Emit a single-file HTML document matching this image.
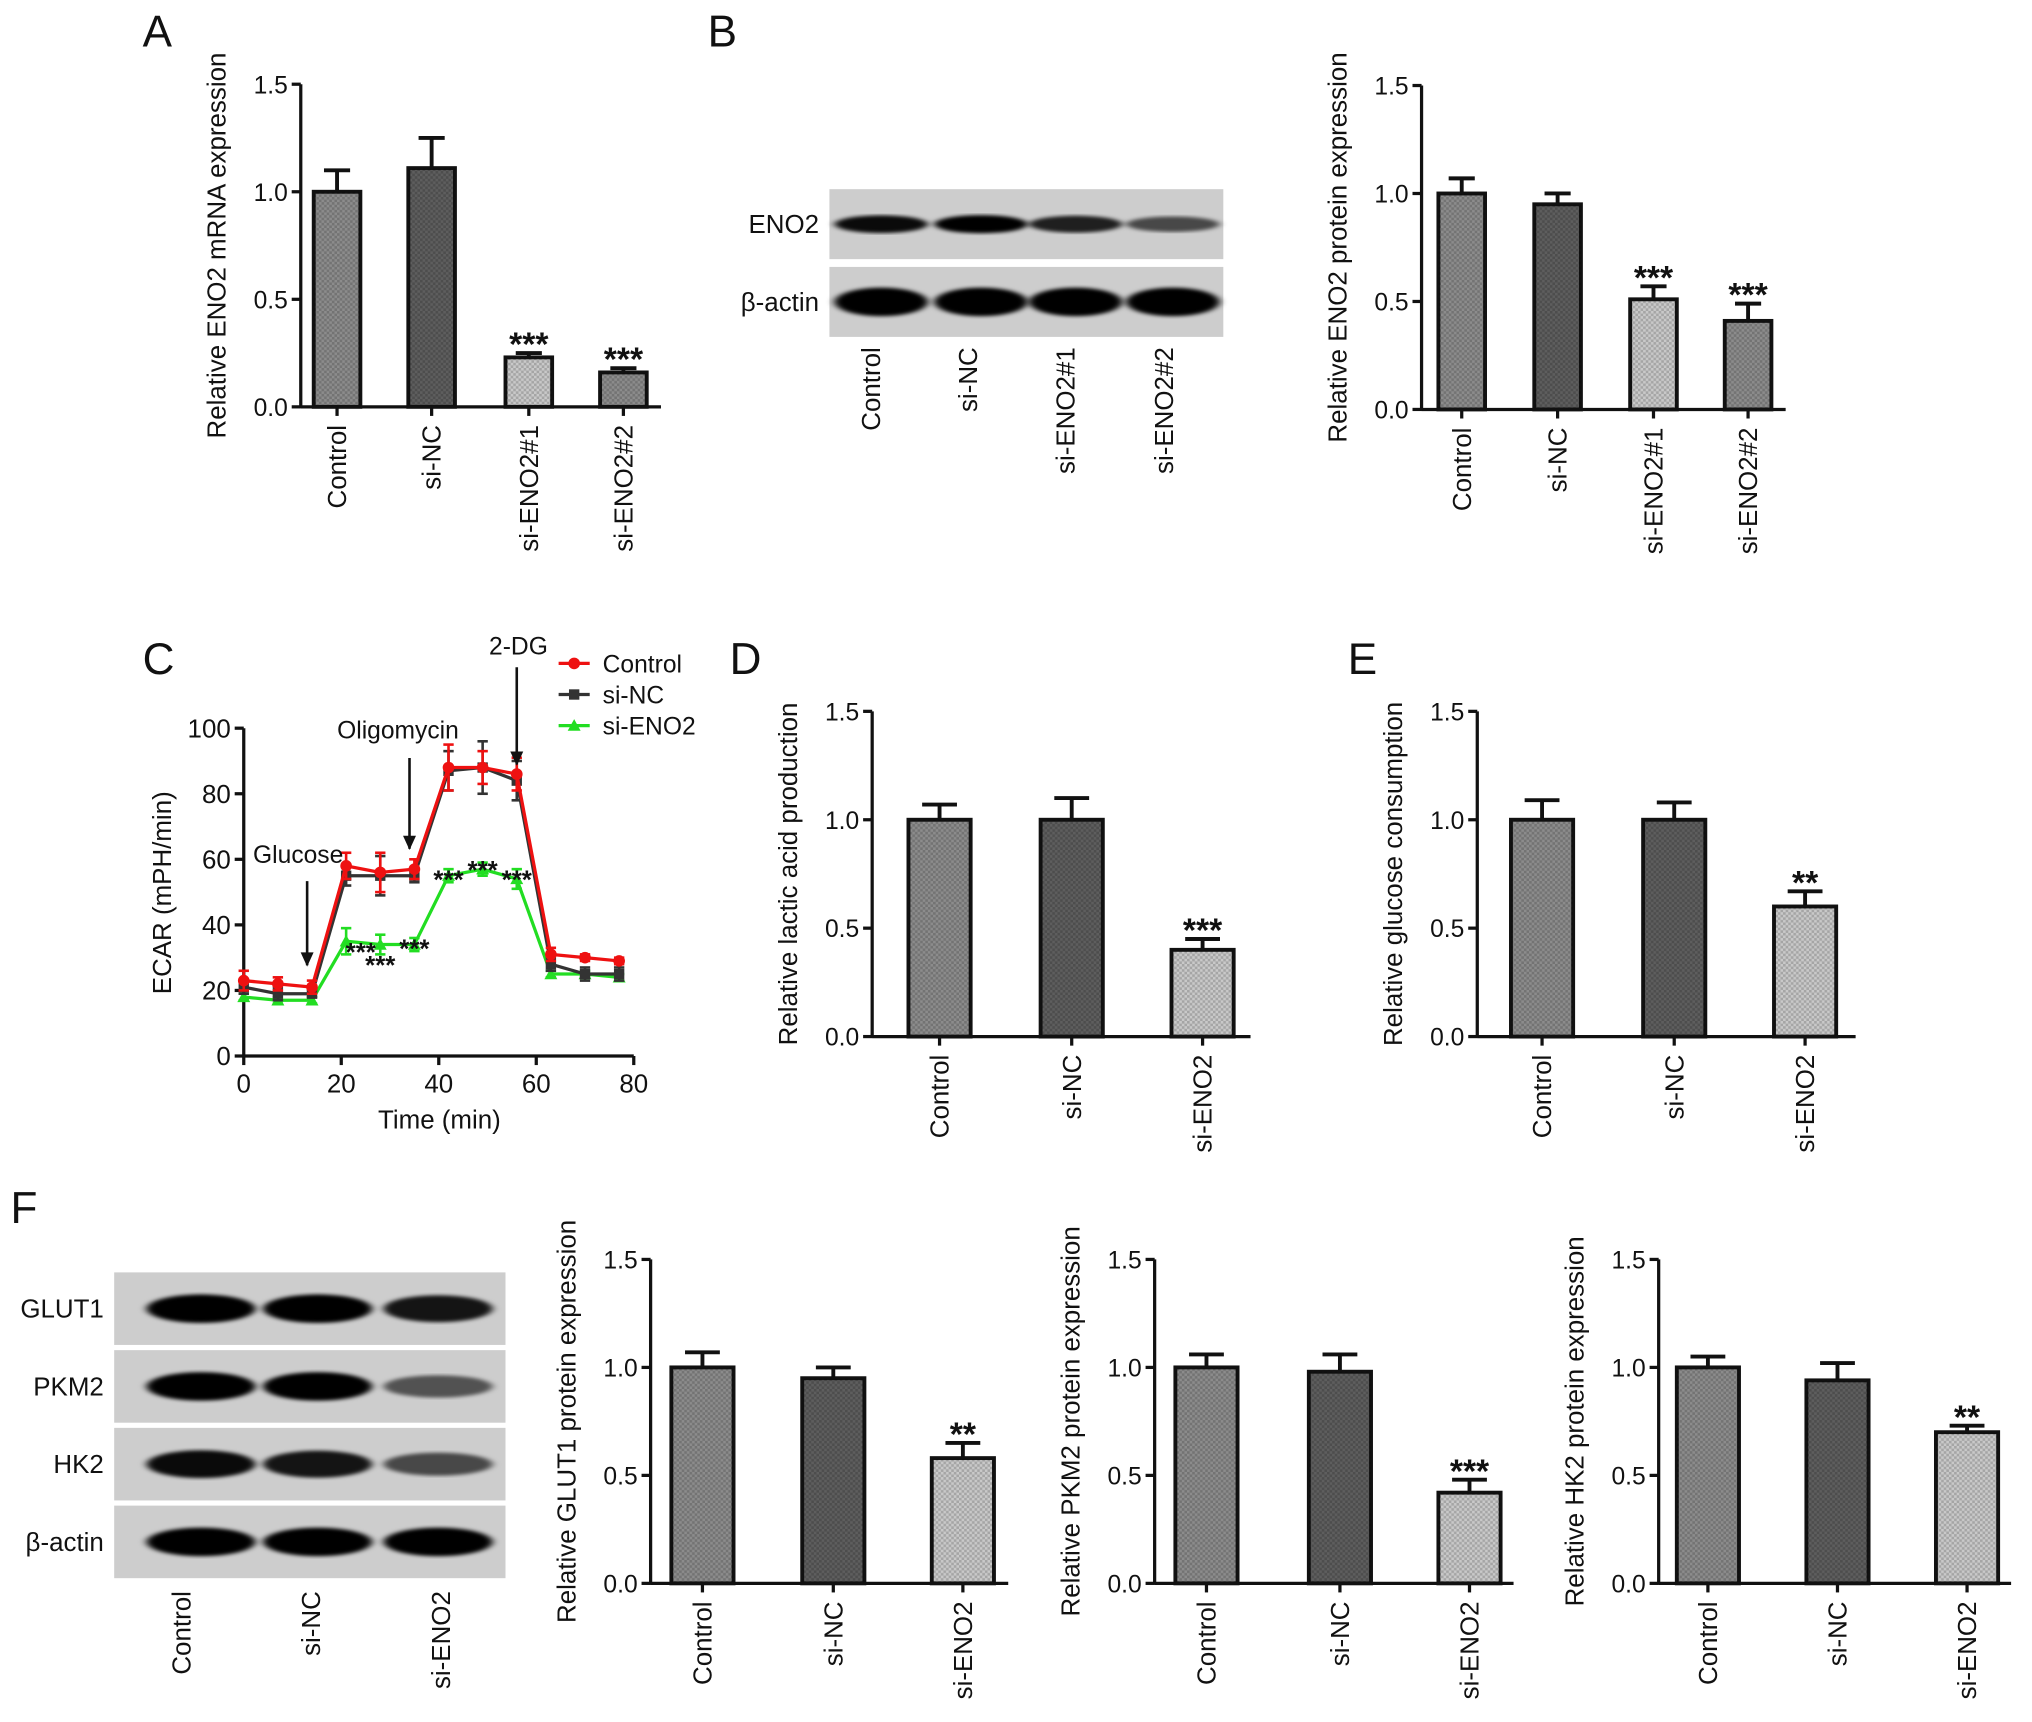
<!DOCTYPE html>
<html><head><meta charset="utf-8">
<style>
html,body{margin:0;padding:0;background:#fff;}
svg{display:block;font-family:"Liberation Sans",sans-serif;}
</style></head>
<body>
<svg id="fig" width="2032" height="1722" viewBox="0 0 1568 1329" xmlns="http://www.w3.org/2000/svg">
<defs>
<pattern id="chk" width="4" height="4" patternUnits="userSpaceOnUse"><rect width="2" height="2" fill="#000" opacity="0.18"/><rect x="2" y="2" width="2" height="2" fill="#000" opacity="0.18"/></pattern>
<filter id="blur"><feGaussianBlur stdDeviation="3 1.5"/></filter>
</defs>
<g id="root"></g>
</svg>
<script>
// ---- Data ----
const catsA = ["Control","si-NC","si-ENO2#1","si-ENO2#2"];
const valsA = [1.0, 1.11, 0.23, 0.16];
const errA = [0.10, 0.14, 0.02, 0.02];
const sigA = ["","","***","***"];
const valsB = [1.0, 0.95, 0.51, 0.41];
const errB = [0.07, 0.05, 0.06, 0.08];
const sigB = ["","","***","***"];
const cats3 = ["Control","si-NC","si-ENO2"];
const valsD = [1.0, 1.0, 0.40];
const errD = [0.07, 0.10, 0.05];
const sigD = ["","","***"];
const valsE = [1.0, 1.0, 0.60];
const errE = [0.09, 0.08, 0.07];
const sigE = ["","","**"];
const valsG = [1.0, 0.95, 0.58];
const errG = [0.07, 0.05, 0.07];
const sigG = ["","","**"];
const valsP = [1.0, 0.98, 0.42];
const errP = [0.06, 0.08, 0.06];
const sigP = ["","","***"];
const valsH = [1.0, 0.94, 0.70];
const errH = [0.05, 0.08, 0.03];
const sigH = ["","","**"];
const barTicks = [0.0, 0.5, 1.0, 1.5];
const barTickLabels = ["0.0","0.5","1.0","1.5"];
// ECAR
const timeC = [0,7,14,21,28,35,42,49,56,63,70,77];
const ctrlC = [23,22,21,58,56,57,88,88,86,31,30,29];
const ctrlErr = [3,2,2,4,6,3,7,5,5,2,1,1];
const ncC = [21,19,19,55,55,55,87,88,84,28,25,25];
const ncErr = [2,2,1,3,6,2,6,8,6,2,2,2];
const enoC = [18,17,17,35,34,34,55,57,54,25,25,24];
const enoErr = [1,1,1,4,3,2,2,2,3,1,1,1];
const sigCx = [24,28,35,42,49,56];
const sigCy = [33,29,34,55,58,55];
const xTicksC = [0,20,40,60,80];
const yTicksC = [0,20,40,60,80,100];
// blot intensities (0..1 darkness)
const blotB = {"ENO2":[0.95,1,0.85,0.65],"β-actin":[1,1,1,1]};
const blotF = {"GLUT1":[1,1,0.9],"PKM2":[1,1,0.6],"HK2":[0.95,0.9,0.65],"β-actin":[1,1,1]};

const NS="http://www.w3.org/2000/svg";
const root=document.getElementById('root');
function el(tag,attrs,parent){const e=document.createElementNS(NS,tag);for(const k in attrs)e.setAttribute(k,attrs[k]);(parent||root).appendChild(e);return e;}
function txt(s,attrs,parent){const t=el('text',attrs,parent);t.textContent=s;return t;}

function panelLabel(s,x,y){
  const t=txt(s,{x:x,y:y,'font-size':34,fill:'#111'});
  
  
}

const fills=["#8c8c8c","#5e5e5e","#c9c9c9","#8c8c8c"];
function barChart(name,ax,y0,y15,centers,cats,vals,errs,sigs,ytitle,bw,fillArr,xend){
  const g=el('g',{});
  
  
  const ys=v=>y0-(v/1.5)*(y0-y15);
  for(let i=0;i<vals.length;i++){
    const c=centers[i], top=ys(vals[i]), et=ys(vals[i]+errs[i]);
    el('line',{x1:c,y1:top,x2:c,y2:et,stroke:'#111','stroke-width':3},g);
    el('line',{x1:c-bw*0.28,y1:et,x2:c+bw*0.28,y2:et,stroke:'#111','stroke-width':3},g);
    const r=el('rect',{x:c-bw/2,y:top,width:bw,height:y0-top,fill:fillArr[i],stroke:'#111','stroke-width':3},g);
    
    
    el('rect',{x:c-bw/2,y:top,width:bw,height:y0-top,fill:'url(#chk)'},g);
    if(sigs[i]){const s=txt(sigs[i],{x:c,y:et+2,'text-anchor':'middle','font-size':26,'font-weight':'bold',fill:'#111'},g);
      }
    el('line',{x1:c,y1:y0,x2:c,y2:y0+7,stroke:'#111','stroke-width':2.5},g);
    const l=txt(cats[i],{x:0,y:0,'text-anchor':'end','font-size':20,fill:'#111',transform:`translate(${c+7},${y0+14}) rotate(-90)`},g);
    
  }
  el('line',{x1:ax,y1:y0,x2:xend,y2:y0,stroke:'#111','stroke-width':2.5},g);
  el('line',{x1:ax,y1:y0+1,x2:ax,y2:y15,stroke:'#111','stroke-width':2.5},g);
  barTicks.forEach((t,i)=>{
    el('line',{x1:ax-7,y1:ys(t),x2:ax,y2:ys(t),stroke:'#111','stroke-width':2.5},g);
    const l=txt(barTickLabels[i],{x:ax-10,y:ys(t)+7,'text-anchor':'end','font-size':19,fill:'#111'},g);
    
  });
  const yt=txt(ytitle,{x:0,y:0,'text-anchor':'middle','font-size':20,fill:'#111',transform:`translate(${ax-58},${(y0+y15)/2}) rotate(-90)`},g);
  
}

function blot(name,x0,x1,rows,lanes,rowTop,rowH,gap,bandW){
  const g=el('g',{});
  
  
  Object.keys(rows).forEach((k,ri)=>{
    const y=rowTop+ri*(rowH+gap);
    el('rect',{x:x0,y:y,width:x1-x0,height:rowH,fill:'#cdcdcd'},g);
    rows[k].forEach((v,li)=>{
      el('ellipse',{cx:lanes[li],cy:y+rowH/2,rx:bandW/2,ry:k==='ENO2'?4+3*v:5+6*v,fill:`rgba(5,5,5,${v})`,filter:'url(#blur)'},g);
    });
    const l=txt(k,{x:x0-8,y:y+rowH/2+7,'text-anchor':'end','font-size':20,fill:'#111'},g);
    
  });
}

// Panel A
panelLabel("A",110,36);
barChart("chart-a-eno2-mrna",232,314,65,[260,333,408,481],catsA,valsA,errA,sigA,"Relative ENO2 mRNA expression",36,fills,510);
// Panel B
panelLabel("B",546,36);
blot("blot-b",640,944,blotB,[680,757,830,905],146,54,6,72);
[672,747,822,898].forEach((x,i)=>{const l=txt(catsA[i],{x:0,y:0,'text-anchor':'end','font-size':20,fill:'#111',transform:`translate(${x+7},${268}) rotate(-90)`});
  });
barChart("chart-b-eno2-protein",1097,316,66,[1128,1202,1276,1349],catsA,valsB,errB,sigB,"Relative ENO2 protein expression",36,fills,1378);
// Panel D, E
panelLabel("D",563,520);
barChart("chart-d-lactic",673,800,549,[725,827,928],cats3,valsD,errD,sigD,"Relative lactic acid production",48,[fills[0],fills[1],fills[2]],965);
panelLabel("E",1040,520);
barChart("chart-e-glucose",1140,800,549,[1190,1292,1393],cats3,valsE,errE,sigE,"Relative glucose consumption",48,[fills[0],fills[1],fills[2]],1432);
// Panel F
panelLabel("F",8,944);
blot("blot-f",88,390,blotF,[155,245,338],982,56,4,84);
[140,240,340].forEach((x,i)=>{const l=txt(cats3[i],{x:0,y:0,'text-anchor':'end','font-size':20,fill:'#111',transform:`translate(${x+7},${1228}) rotate(-90)`});
  });
barChart("chart-f-glut1",502,1222,972,[542,643,743],cats3,valsG,errG,sigG,"Relative GLUT1 protein expression",48,[fills[0],fills[1],fills[2]],778);
barChart("chart-f-pkm2",891,1222,972,[931,1034,1134],cats3,valsP,errP,sigP,"Relative PKM2 protein expression",48,[fills[0],fills[1],fills[2]],1168);
barChart("chart-f-hk2",1280,1222,972,[1318,1418,1518],cats3,valsH,errH,sigH,"Relative HK2 protein expression",48,[fills[0],fills[1],fills[2]],1552);

// Panel C
panelLabel("C",110,520);
(function(){
  const g=el('g',{});
  
  
  const X=t=>188+t*(489-188)/80, Y=v=>815-v*(815-562)/100;
  el('line',{x1:X(0),y1:Y(0),x2:X(80),y2:Y(0),stroke:'#111','stroke-width':2.5},g);
  el('line',{x1:X(0),y1:Y(0),x2:X(0),y2:Y(100),stroke:'#111','stroke-width':2.5},g);
  xTicksC.forEach(t=>{el('line',{x1:X(t),y1:Y(0),x2:X(t),y2:Y(0)+7,stroke:'#111','stroke-width':2.5},g);
    const l=txt(String(t),{x:X(t),y:Y(0)+28,'text-anchor':'middle','font-size':20,fill:'#111'},g);
    });
  yTicksC.forEach(t=>{el('line',{x1:X(0)-7,y1:Y(t),x2:X(0),y2:Y(t),stroke:'#111','stroke-width':2.5},g);
    const l=txt(String(t),{x:X(0)-10,y:Y(t)+7,'text-anchor':'end','font-size':20,fill:'#111'},g);
    });
  const xt=txt("Time (min)",{x:339,y:871,'text-anchor':'middle','font-size':20,fill:'#111'},g);
  
  const yt=txt("ECAR (mPH/min)",{x:0,y:0,'text-anchor':'middle','font-size':20,fill:'#111',transform:`translate(132,689) rotate(-90)`},g);
  
  const series=[[enoC,enoErr,'#22dd22','tri','si-ENO2'],[ncC,ncErr,'#333','sq','si-NC'],[ctrlC,ctrlErr,'#ee1111','circ','Control']];
  series.forEach(s=>{
    const sg=el('g',{},g);
    
    
    el('polyline',{points:timeC.map((t,i)=>X(t)+','+Y(s[0][i])).join(' '),fill:'none',stroke:s[2],'stroke-width':2.5},sg);
    timeC.forEach((t,i)=>{
      const x=X(t),y1=Y(s[0][i]-s[1][i]),y2=Y(s[0][i]+s[1][i]);
      el('line',{x1:x,y1:y1,x2:x,y2:y2,stroke:s[2],'stroke-width':2},sg);
      el('line',{x1:x-4,y1:y1,x2:x+4,y2:y1,stroke:s[2],'stroke-width':2},sg);
      el('line',{x1:x-4,y1:y2,x2:x+4,y2:y2,stroke:s[2],'stroke-width':2},sg);
      const y=Y(s[0][i]);
      if(s[3]==='circ')el('circle',{cx:x,cy:y,r:4.5,fill:s[2]},sg);
      else if(s[3]==='sq')el('rect',{x:x-4,y:y-4,width:8,height:8,fill:s[2]},sg);
      else el('polygon',{points:`${x},${y-5} ${x-5},${y+4} ${x+5},${y+4}`,fill:s[2]},sg);
    });
  });
  sigCx.forEach((t,i)=>{const s=txt('***',{x:X(t),y:Y(sigCy[i])+10,'text-anchor':'middle','font-size':20,'font-weight':'bold',fill:'#111'},g);
    });
  // arrows
  [[13,745,'Glucose',230,666,65],[34,655,'Oligomycin',307,570,70],[56,590,'2-DG',400,505,75]].forEach(a=>{
    const x=X(a[0]);
    el('line',{x1:x,y1:a[1]-a[5],x2:x,y2:a[1],stroke:'#111','stroke-width':2},g);
    el('polygon',{points:`${x-5},${a[1]-10} ${x+5},${a[1]-10} ${x},${a[1]+1}`,fill:'#111'},g);
    const l=txt(a[2],{x:a[3],y:a[4],'text-anchor':'middle','font-size':19,fill:'#111'},g);
    
  });
  // legend
  const lg=el('g',{},g);
  
  
  [['Control','#ee1111','circ',512],['si-NC','#333','sq',536],['si-ENO2','#22dd22','tri',560]].forEach(e=>{
    const eg=el('g',{},lg);
    
    
    el('line',{x1:431,y1:e[3],x2:455,y2:e[3],stroke:e[1],'stroke-width':2.5},eg);
    if(e[2]==='circ')el('circle',{cx:443,cy:e[3],r:4.5,fill:e[1]},eg);
    else if(e[2]==='sq')el('rect',{x:439,y:e[3]-4,width:8,height:8,fill:e[1]},eg);
    else el('polygon',{points:`443,${e[3]-5} 438,${e[3]+4} 448,${e[3]+4}`,fill:e[1]},eg);
    txt(e[0],{x:465,y:e[3]+7,'font-size':19,fill:'#111'},eg);
  });
})();
</script>
</body></html>
